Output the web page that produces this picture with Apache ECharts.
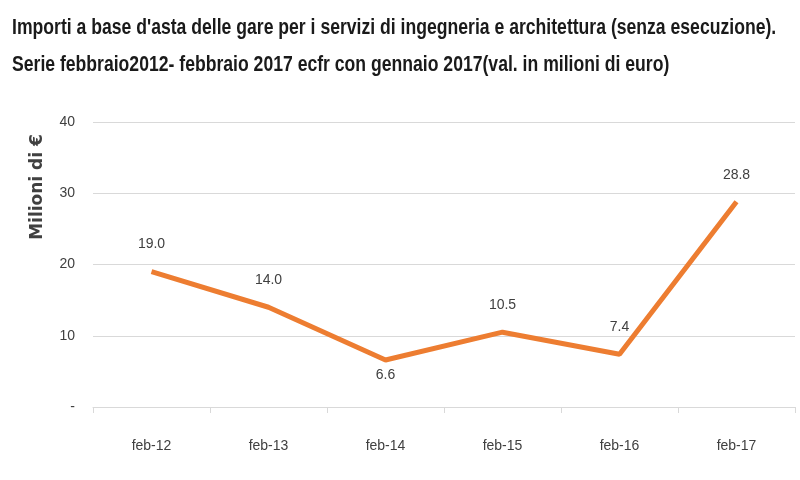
<!DOCTYPE html>
<html><head><meta charset="utf-8">
<script src="https://cdn.jsdelivr.net/npm/echarts@6/dist/echarts.min.js"></script>
<style>html,body{margin:0;padding:0;background:#fff}#c{width:800px;height:480px}</style>
</head><body><div id="c"></div>
<script>
const categories = ['feb-12','feb-13','feb-14','feb-15','feb-16','feb-17'];
const values = [19.0, 14.0, 6.6, 10.5, 7.4, 28.8];
const yTicks = [0, 10, 20, 30, 40];
const titleLines = ["Importi a base d'asta delle gare per i servizi di ingegneria e architettura (senza esecuzione).",
  "Serie febbraio2012- febbraio 2017 ecfr con gennaio 2017(val. in milioni di euro)"];
const yName = 'Milioni di €';
const belowIdx = [2];

const font = '"Liberation Sans", sans-serif';
const chart = echarts.init(document.getElementById('c'));
chart.setOption({
  animation: false,
  graphic: [
    { type: 'text', left: 12, top: 17, scaleX: 0.8,
      style: { text: titleLines[0], font: 'bold 22px "Liberation Sans", sans-serif', fill: '#1a1a1a' } },
    { type: 'text', left: 12, top: 54, scaleX: 0.8,
      style: { text: titleLines[1], font: 'bold 22px "Liberation Sans", sans-serif', fill: '#1a1a1a' } },
    { type: 'text', x: 38, y: 187, rotation: Math.PI / 2,
      style: { text: yName, font: 'bold 17px "DejaVu Sans", sans-serif', fill: '#404040',
        align: 'center', verticalAlign: 'middle' } }
  ],
  grid: { left: 93, right: 5, top: 122, bottom: 73 },
  xAxis: {
    type: 'category', data: categories, boundaryGap: true,
    axisLine: { lineStyle: { color: '#d9d9d9', width: 1 } },
    axisTick: { show: true, length: 6, lineStyle: { color: '#d9d9d9' } },
    axisLabel: { fontFamily: font, fontSize: 14, color: '#404040', margin: 32 }
  },
  yAxis: {
    type: 'value', min: 0, max: 40, interval: 10,
    axisLine: { show: false }, axisTick: { show: false },
    axisLabel: { fontFamily: font, fontSize: 14, color: '#404040', margin: 18,
      formatter: v => yTicks.includes(v) ? (v === 0 ? '-' : String(v)) : '' },
    splitLine: { lineStyle: { color: '#d9d9d9', width: 1 } }
  },
  series: [{
    type: 'line', data: values.map((v, i) => ({
      value: v,
      label: belowIdx.includes(i) ? { position: 'bottom', distance: 8 } : { position: 'top', distance: 20 }
    })),
    symbol: 'circle', symbolSize: 0, showSymbol: true,
    lineStyle: { color: '#ED7D31', width: 5 },
    itemStyle: { color: '#ED7D31' },
    label: { show: true, fontFamily: font, fontSize: 14, color: '#404040',
      formatter: p => p.value.toFixed(1) }
  }]
});
</script></body></html>
